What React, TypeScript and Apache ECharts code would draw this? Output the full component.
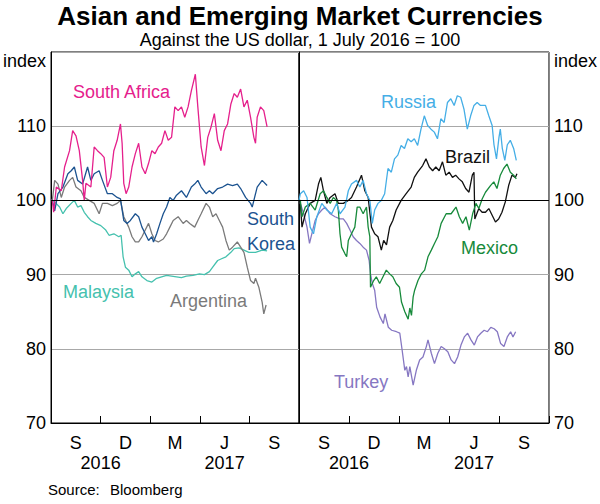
import { useEffect, useRef } from "react";
import * as echarts from "echarts";

const FONT = "'Liberation Sans', Arial, Helvetica, sans-serif";

// x values are months since 1 July 2016, y values are index (1 July 2016 = 100)
const southAfrica: [number, number][] = [
  [0, 100], [0.08, 100], [0.16, 98.4], [0.32, 101.8], [0.62, 101.3], [0.82, 104.5], [1.12, 106.7],
  [1.31, 109.4], [1.51, 108.7], [1.71, 106.7], [1.91, 102.7], [2.01, 100], [2.11, 102.3], [2.41, 101.8],
  [2.61, 107.2], [2.81, 106.7], [3.01, 106.3], [3.21, 105.8], [3.41, 101.8], [3.61, 103.1], [3.8, 106.7],
  [4.0, 108.1], [4.2, 110.3], [4.3, 107.7], [4.4, 102.3], [4.54, 100.9], [4.7, 101.8], [4.9, 104.5],
  [5.1, 106.3], [5.3, 107.7], [5.5, 104.5], [5.7, 103.6], [5.9, 105], [6.1, 106.7], [6.29, 106.3],
  [6.49, 107.2], [6.69, 107.7], [6.89, 109.4], [7.09, 108.1], [7.29, 108.5], [7.49, 112.6], [7.69, 112.1],
  [7.89, 112.6], [8.09, 111.2], [8.29, 112.6], [8.49, 114.8], [8.73, 117], [8.88, 112.6], [9.08, 107.2],
  [9.28, 104.7], [9.48, 108.5], [9.68, 109.9], [9.88, 111.7], [10.08, 108.1], [10.28, 106.7], [10.48, 109.4],
  [10.68, 110.3], [10.88, 113], [11.08, 114.4], [11.27, 113.9], [11.47, 115], [11.67, 112.6], [11.87, 113.5],
  [12.07, 111.2], [12.27, 108.5], [12.37, 107.7], [12.47, 111.2], [12.67, 112.6], [12.87, 112.1], [13.07, 109.9],
];

const southKorea: [number, number][] = [
  [0, 100], [0.08, 100], [0.22, 98.6], [0.42, 100.9], [0.72, 101.8], [1.02, 103.6], [1.22, 104],
  [1.41, 104.5], [1.61, 102.7], [1.91, 102.2], [2.21, 104.5], [2.41, 102.7], [2.61, 103.6], [2.91, 104],
  [3.11, 102.7], [3.41, 100.9], [3.71, 100.9], [4.0, 100.4], [4.2, 100.2], [4.4, 97.3], [4.6, 96.9],
  [4.8, 97.3], [5.1, 98.2], [5.3, 97.8], [5.5, 96.4], [5.7, 95.5], [5.9, 94.6], [6.1, 95.1], [6.2, 94.4],
  [6.39, 95.5], [6.59, 96.9], [6.79, 98.2], [6.99, 99.1], [7.19, 100.4], [7.39, 100], [7.59, 100.7],
  [7.89, 101.3], [8.19, 100.4], [8.49, 101.8], [8.69, 102.2], [8.88, 102.7], [9.08, 101.8], [9.38, 100.9],
  [9.58, 101.3], [9.78, 100.9], [10.08, 101.6], [10.38, 101.8], [10.68, 102.2], [10.98, 102], [11.27, 102.2],
  [11.47, 101.6], [11.77, 100.4], [12.07, 99.6], [12.17, 99.1], [12.47, 101.8], [12.77, 102.7], [13.07, 102],
];

const malaysia: [number, number][] = [
  [0, 100], [0.12, 100], [0.52, 99.1], [0.72, 98.2], [0.92, 98.9], [1.22, 99.6], [1.41, 100], [1.61, 99.1],
  [1.81, 99.3], [2.01, 98.4], [2.21, 97.8], [2.41, 97.3], [2.71, 96.9], [3.01, 96.6], [3.31, 96], [3.51, 95.3],
  [3.8, 95.5], [4.1, 95.1], [4.24, 95.3], [4.36, 92.4], [4.5, 91], [4.7, 90.6], [4.9, 89.7], [5.1, 90.1],
  [5.3, 90.4], [5.5, 89.7], [5.8, 89.2], [6.1, 89], [6.39, 89.5], [6.69, 89.7], [6.99, 89.9], [7.29, 89.8],
  [7.59, 89.7], [7.89, 89.6], [8.19, 89.8], [8.59, 89.9], [8.98, 90.1], [9.28, 90], [9.58, 90.4], [9.78, 91],
  [10.08, 91.9], [10.28, 92.1], [10.58, 92.4], [10.88, 93], [11.08, 93.5], [11.37, 93.6], [11.67, 93.3],
  [11.97, 93], [12.37, 93], [12.77, 93.3], [13.07, 93.2],
];

const argentina: [number, number][] = [
  [0, 100], [0.08, 100], [0.22, 102.7], [0.42, 102.2], [0.62, 100.4], [0.82, 101.8], [1.12, 102.7],
  [1.31, 103.1], [1.51, 101.8], [1.81, 101.3], [2.01, 100.4], [2.31, 100], [2.61, 99.6], [2.91, 98.2],
  [3.11, 99.6], [3.41, 99.6], [3.71, 99.3], [4.0, 99.6], [4.2, 100], [4.4, 97.8], [4.7, 96.4], [4.9, 95.1],
  [5.1, 94.4], [5.3, 94.4], [5.5, 95.1], [5.7, 96], [5.9, 96.9], [6.1, 95.5], [6.29, 94.6], [6.49, 94.4],
  [6.79, 94.8], [6.99, 95.5], [7.19, 96.4], [7.39, 97.3], [7.69, 97.8], [7.99, 96.9], [8.19, 97.3],
  [8.39, 96.9], [8.69, 96.4], [8.88, 97.3], [9.08, 98.2], [9.38, 99.6], [9.58, 99.1], [9.78, 97.8],
  [9.98, 98.2], [10.18, 97.3], [10.38, 96.4], [10.58, 94.6], [10.78, 93.3], [10.98, 93.7], [11.27, 94.4],
  [11.47, 93.7], [11.67, 93], [11.87, 91], [12.07, 89.2], [12.27, 88.8], [12.37, 89.5], [12.57, 88.3],
  [12.77, 86.3], [12.87, 84.7], [13.01, 85.9],
];

const russia: [number, number][] = [
  [0, 100], [0.08, 100.9], [0.28, 101.3], [0.48, 100.4], [0.67, 96.4], [0.87, 95.5], [1.07, 97.8],
  [1.37, 99.6], [1.67, 98.7], [1.96, 98.2], [2.26, 99.6], [2.46, 98.2], [2.76, 99.1], [2.96, 101.3],
  [3.15, 102.2], [3.45, 102.7], [3.65, 101.8], [3.85, 102.7], [4.05, 100.9], [4.25, 100], [4.4, 96.9],
  [4.54, 98.7], [4.74, 99.6], [4.94, 100], [5.14, 100.9], [5.34, 104.3], [5.54, 103.8], [5.73, 105.6],
  [5.93, 106.1], [6.13, 107.4], [6.33, 107], [6.53, 108.3], [6.73, 107.9], [6.92, 108.3], [7.12, 107.4],
  [7.32, 109.6], [7.52, 111.4], [7.72, 110.1], [7.92, 109.6], [8.12, 109.2], [8.31, 108.3], [8.51, 111],
  [8.71, 110.5], [8.91, 113.2], [9.11, 113.7], [9.31, 112.8], [9.5, 114.1], [9.7, 113.9], [9.9, 112.3],
  [10.1, 109.6], [10.3, 111.4], [10.5, 112.8], [10.69, 113.2], [10.89, 112.8], [11.19, 112.8],
  [11.39, 111.4], [11.59, 110.1], [11.7, 107.5], [11.85, 105.6], [12.0, 108.5], [12.08, 109.6],
  [12.2, 107], [12.35, 105.4], [12.5, 107.5], [12.68, 108.1], [12.88, 107], [13.04, 105.4],
];

const brazil: [number, number][] = [
  [0, 100], [0.08, 99.6], [0.18, 96.4], [0.38, 98.2], [0.67, 99.6], [0.97, 100], [1.17, 102.2],
  [1.31, 103.1], [1.47, 101.3], [1.67, 99.6], [1.87, 100.4], [2.16, 100.9], [2.36, 99.6], [2.66, 99.6],
  [2.96, 100], [3.15, 100.4], [3.45, 101.8], [3.75, 103.4], [3.95, 101.3], [4.15, 100.4], [4.35, 96.4],
  [4.54, 95.5], [4.74, 95.1], [4.94, 93.3], [5.08, 94.6], [5.25, 94], [5.44, 96.4], [5.63, 97.3],
  [5.83, 98.7], [6.13, 100], [6.43, 100.9], [6.73, 101.8], [6.92, 103.1], [7.12, 103.8], [7.42, 104.7],
  [7.62, 105.6], [7.82, 104.5], [8.02, 104], [8.21, 104.5], [8.41, 104], [8.61, 105.2], [8.81, 103.4],
  [9.01, 103.8], [9.21, 103.1], [9.4, 103.4], [9.6, 102.9], [9.8, 102.5], [10.0, 101.6], [10.2, 101.1],
  [10.4, 103.4], [10.5, 103.8], [10.55, 97.5], [10.79, 98.9], [10.99, 98.4], [11.19, 98.4], [11.39, 98.9],
  [11.59, 98], [11.79, 97.1], [11.98, 97.5], [12.18, 98.4], [12.38, 99.8], [12.58, 102], [12.78, 103.4],
  [12.98, 103.1], [13.08, 103.6],
];

const mexico: [number, number][] = [
  [0, 100], [0.08, 100], [0.18, 97.8], [0.38, 99.1], [0.67, 99.6], [0.97, 98.7], [1.27, 100.9],
  [1.47, 101.3], [1.67, 100.4], [1.87, 99.6], [2.06, 100.4], [2.26, 100], [2.36, 98.7], [2.46, 95.5],
  [2.56, 93.7], [2.76, 92.8], [2.86, 92.4], [2.96, 94.6], [3.15, 95.5], [3.35, 96.4], [3.49, 99.1],
  [3.65, 99.1], [3.85, 98.2], [4.05, 99.1], [4.15, 96.4], [4.25, 95.1], [4.29, 88.3], [4.48, 89.2],
  [4.64, 89.7], [4.84, 88.8], [5.04, 89.7], [5.24, 90.6], [5.44, 90.1], [5.63, 89.7], [5.83, 88.8],
  [6.03, 88.3], [6.15, 86.3], [6.35, 85], [6.55, 84], [6.65, 85.5], [6.75, 84.5], [6.85, 87], [6.94, 87.9],
  [7.14, 89.2], [7.34, 90.1], [7.54, 90.6], [7.74, 92.4], [7.94, 93.3], [8.13, 94.2], [8.33, 95.1],
  [8.53, 96.9], [8.83, 98.2], [9.13, 98.2], [9.42, 99.1], [9.62, 97.8], [9.82, 96.9], [10.02, 97.8],
  [10.22, 96], [10.42, 98.2], [10.62, 99.6], [10.79, 98.9], [10.99, 100.2], [11.19, 101.1], [11.49, 102],
  [11.69, 102.5], [11.88, 101.6], [12.08, 103.4], [12.28, 104.3], [12.48, 104.9], [12.68, 103.8],
  [12.88, 103.4], [13.04, 102.9],
];

const turkey: [number, number][] = [
  [0, 100], [0.08, 99.6], [0.28, 98.2], [0.48, 96.4], [0.63, 94.2], [0.77, 95.5], [0.97, 97.3],
  [1.17, 98.2], [1.37, 98.7], [1.57, 99.1], [1.87, 98.2], [2.16, 97.8], [2.46, 97.5], [2.66, 97.5],
  [2.86, 96.9], [3.06, 96], [3.25, 95.1], [3.45, 94.6], [3.65, 94.2], [3.85, 93.7], [4.05, 93.3],
  [4.21, 91.9], [4.29, 90.1], [4.4, 88.8], [4.54, 87.9], [4.66, 85.6], [4.86, 84.3], [5.06, 83.4],
  [5.16, 84.7], [5.36, 82.9], [5.56, 82.5], [5.85, 82.3], [6.05, 82.1], [6.19, 79.8], [6.35, 77.1],
  [6.45, 77.6], [6.55, 76.2], [6.65, 77.6], [6.85, 75.1], [7.04, 77.1], [7.24, 78.5], [7.44, 78.9],
  [7.64, 80.3], [7.74, 81.2], [7.94, 79.4], [8.13, 78], [8.33, 79.4], [8.53, 80.3], [8.73, 80],
  [8.93, 79.6], [9.13, 78.5], [9.33, 78], [9.52, 78.9], [9.72, 80.5], [9.92, 81.6], [10.12, 82.1],
  [10.32, 81.2], [10.52, 80.5], [10.71, 81.6], [10.91, 82.1], [11.11, 82.5], [11.31, 82.3], [11.51, 82.9],
  [11.71, 82.7], [11.9, 82.3], [12.1, 80.7], [12.3, 80.3], [12.5, 81.6], [12.7, 82.3], [12.84, 81.6],
  [13.0, 82.3],
];

// axis labels: quarter letters sit mid-quarter, years under them
const quarterLetters = ["S", "D", "M", "J", "S"];
const yearLabels: [number, string][] = [
  [3, "2016"],
  [10.5, "2017"],
];

const colors = {
  southAfrica: "#e5208c",
  southKorea: "#1c5390",
  malaysia: "#45c1ae",
  argentina: "#7a7a7a",
  russia: "#45aee6",
  brazil: "#111111",
  mexico: "#178a3b",
  turkey: "#8677c2",
};

function monthLabel(v: number) {
  const k = Math.round(v / 1.5);
  let top = "";
  if (k % 2 === 1) top = quarterLetters[(k - 1) / 2] ?? "";
  const yr = yearLabels.find(([at]) => Math.abs(at - v) < 0.01);
  if (yr) return top + "\n" + yr[1];
  return top;
}

function yLabel(v: number) {
  return v === 120 ? "{u|index}" : String(v);
}

export default function App() {
  const divRef = useRef<HTMLDivElement>(null);

  useEffect(() => {
    if (!divRef.current) return;
    const chart = echarts.init(divRef.current, null, { renderer: "svg" });

    const labelStyle = { fontFamily: FONT, fontSize: 18, color: "#000" };

    const tickAxis = (gridIndex: number) => ({
      type: "value",
      gridIndex,
      position: "bottom",
      min: 0,
      max: 15,
      interval: 3,
      axisLine: { show: true, lineStyle: { color: "#000", width: 1 } },
      axisTick: { show: true, inside: true, length: 7, lineStyle: { color: "#000", width: 1 } },
      axisLabel: { show: false },
      splitLine: { show: false },
    });

    const labelAxis = (gridIndex: number) => ({
      type: "value",
      gridIndex,
      position: "bottom",
      min: 0,
      max: 15,
      interval: 1.5,
      axisLine: { show: false },
      axisTick: { show: false },
      splitLine: { show: false },
      axisLabel: { ...labelStyle, margin: 10, lineHeight: 20, formatter: monthLabel },
    });

    const valueAxis = (gridIndex: number, position: string) => ({
      type: "value",
      gridIndex,
      position,
      min: 70,
      max: 120,
      interval: 10,
      axisLine: { show: true, lineStyle: { color: "#000", width: 1 } },
      axisTick: { show: false },
      splitLine: { show: true, lineStyle: { color: "#a8a8a8", width: 1 } },
      axisLabel: {
        ...labelStyle,
        margin: 5,
        formatter: yLabel,
        rich: { u: { ...labelStyle, padding: [18, 0, 0, 0] } },
      },
    });

    const line = (name: string, data: [number, number][], color: string, panel: number, extra = {}) => ({
      name,
      type: "line",
      xAxisIndex: panel * 2,
      yAxisIndex: panel,
      data,
      symbol: "none",
      showSymbol: false,
      lineStyle: { color, width: 1.3 },
      itemStyle: { color },
      emphasis: { disabled: true },
      ...extra,
    });

    const parLine = {
      markLine: {
        silent: true,
        symbol: "none",
        label: { show: false },
        lineStyle: { color: "#000", width: 1, type: "solid" },
        data: [{ yAxis: 100 }],
      },
    };

    const seriesText = (text: string, x: number, y: number, fill: string) => ({
      type: "text",
      left: x,
      top: y,
      style: { text, fill, font: `18px ${FONT}`, lineHeight: 25 },
    });

    chart.setOption({
      animation: false,
      title: [
        {
          text: "Asian and Emerging Market Currencies",
          left: "center",
          top: -2,
          textStyle: { fontFamily: FONT, fontSize: 26, fontWeight: "bold", color: "#000" },
        },
        {
          text: "Against the US dollar, 1 July 2016 = 100",
          left: "center",
          top: 26,
          textStyle: { fontFamily: FONT, fontSize: 18, fontWeight: "normal", color: "#000" },
        },
      ],
      grid: [
        { left: 48, top: 52, width: 251, height: 371, show: true, borderColor: "#000", borderWidth: 1 },
        { left: 299, top: 52, width: 253, height: 371, show: true, borderColor: "#000", borderWidth: 1 },
      ],
      xAxis: [tickAxis(0), labelAxis(0), tickAxis(1), labelAxis(1)],
      yAxis: [valueAxis(0, "left"), valueAxis(1, "right")],
      series: [
        line("Malaysia", malaysia, colors.malaysia, 0, parLine),
        line("Argentina", argentina, colors.argentina, 0),
        line("South Korea", southKorea, colors.southKorea, 0),
        line("South Africa", southAfrica, colors.southAfrica, 0),
        line("Turkey", turkey, colors.turkey, 1, parLine),
        line("Brazil", brazil, colors.brazil, 1),
        line("Mexico", mexico, colors.mexico, 1),
        line("Russia", russia, colors.russia, 1),
      ],
      graphic: [
        seriesText("South Africa", 73, 79, colors.southAfrica),
        seriesText("South\nKorea", 247, 206, colors.southKorea),
        seriesText("Malaysia", 63, 279, colors.malaysia),
        seriesText("Argentina", 170, 288, colors.argentina),
        seriesText("Russia", 381, 89, colors.russia),
        seriesText("Brazil", 445, 144, colors.brazil),
        seriesText("Mexico", 461, 235, colors.mexico),
        seriesText("Turkey", 334, 369, colors.turkey),
        { type: "text", left: 48, top: 482, style: { text: "Source:", fill: "#000", font: `15px ${FONT}` } },
        { type: "text", left: 110, top: 482, style: { text: "Bloomberg", fill: "#000", font: `15px ${FONT}` } },
      ],
    });

    return () => {
      chart.dispose();
    };
  }, []);

  return (
    <div
      ref={divRef}
      style={{ position: "fixed", left: 0, top: 0, width: 600, height: 504, background: "#fff" }}
    />
  );
}
